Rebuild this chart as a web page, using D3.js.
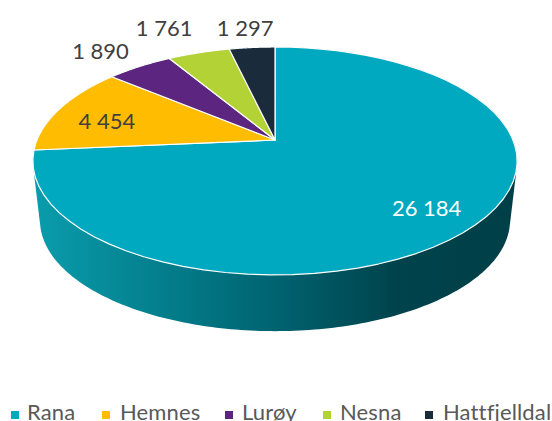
<!DOCTYPE html>
<html><head><meta charset="utf-8">
<script src="https://cdn.jsdelivr.net/npm/d3@7"></script>
<style>html,body{margin:0;padding:0;background:#fff;overflow:hidden}svg{display:block}text{font-family:Lato,"Open Sans",sans-serif}</style>
</head><body><svg id="c" width="552" height="421"></svg>
<script>
const categories = ["Rana","Hemnes","Lurøy","Nesna","Hattfjelldal"];
const values = [26184,4454,1890,1761,1297];
const colors = ["#00A9BF","#FFBC00","#5C2680","#B2D235","#1A2B3C"];
const labelColors = ["#ffffff","#404040","#404040","#404040","#404040"];
const labelOffsets = [[17,11],[-15,3],[-76,-36],[-55,-49],[-13,-45]];
const legendSwatchX = [11,102,225,323,425];
const legendTextX = [27,120,242,340,443];

const svg = d3.select("#c");
const fmt = d3.formatLocale({decimal:",",thousands:" ",grouping:[3],currency:["",""]}).format(",d");

// perspective projection of a unit disc
const persp = -0.184;
function project(a, r, o){
  const u = Math.sin(a)*r, v = -Math.cos(a)*r, w = 1 + persp*v;
  return [o.cx + o.a*u/w, o.cy + o.b*v/w];
}
const topDisc = {cx:275, cy:140, a:238, b:110.1};
const botDisc = {cx:275, cy:200, a:231, b:107};

const arcs = d3.pie().sort(null)(values);
const samples = (a0,a1)=>d3.range(0,61).map(i=>a0+(a1-a0)*i/60);

// side wall
const defs = svg.append("defs");
const grad = defs.append("linearGradient").attr("id","wall").attr("gradientUnits","userSpaceOnUse")
  .attr("x1",33).attr("x2",517).attr("y1",0).attr("y2",0);
[[0,"#0A9DAD"],[0.25,"#04808E"],[0.5,"#006370"],[0.75,"#00434C"],[1,"#003F47"]]
  .forEach(s=>grad.append("stop").attr("offset",s[0]).attr("stop-color",s[1]));
const ring = d3.range(0,360).map(d=>d*Math.PI/180);
const hull = d3.polygonHull(ring.map(a=>project(a,1,topDisc)).concat(ring.map(a=>project(a,1,botDisc))));
svg.append("path").attr("d",d3.line()(hull)+"Z").attr("fill","url(#wall)");

// top slices
svg.selectAll("path.s").data(arcs).join("path").attr("class","s")
  .attr("d",d=>d3.line()([[topDisc.cx,topDisc.cy]].concat(samples(d.startAngle,d.endAngle).map(a=>project(a,1,topDisc))))+"Z")
  .attr("fill",(d,i)=>colors[i]).attr("stroke","#fff").attr("stroke-width",1.2).attr("stroke-linejoin","round");

// value labels
svg.selectAll("text.v").data(arcs).join("text").attr("class","v")
  .attr("x",(d,i)=>project((d.startAngle+d.endAngle)/2,0.7,topDisc)[0]+labelOffsets[i][0])
  .attr("y",(d,i)=>project((d.startAngle+d.endAngle)/2,0.7,topDisc)[1]+labelOffsets[i][1])
  .attr("text-anchor","middle").attr("dominant-baseline","central")
  .attr("font-size",22).attr("fill",(d,i)=>labelColors[i]).text(d=>fmt(d.value));

// legend
const lg = svg.append("g");
categories.forEach((c,i)=>{
  lg.append("rect").attr("x",legendSwatchX[i]).attr("y",411).attr("width",8).attr("height",8).attr("fill",colors[i]);
  lg.append("text").attr("x",legendTextX[i]).attr("y",420).attr("font-size",22).attr("letter-spacing",0.15).attr("fill","#595959").text(c);
});
</script></body></html>
